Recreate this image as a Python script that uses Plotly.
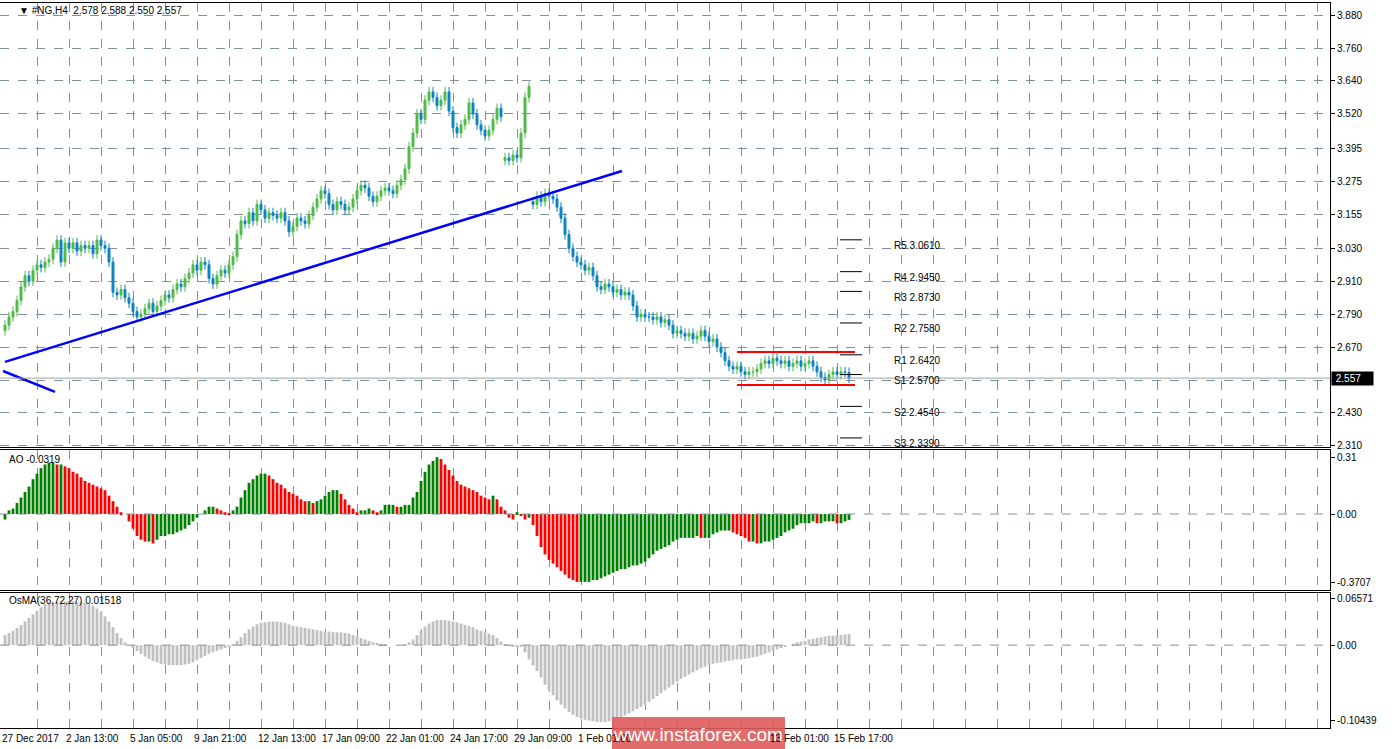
import plotly.graph_objects as go
from plotly.subplots import make_subplots

closes = [
2.75,2.78,2.80,2.84,2.89,2.93,2.91,2.95,2.97,2.96,
2.98,2.99,3.03,3.06,2.98,3.05,3.03,3.05,3.02,3.04,
3.03,3.04,3.01,3.06,3.04,3.03,2.98,2.87,2.86,2.88,
2.85,2.83,2.80,2.78,2.79,2.81,2.83,2.80,2.82,2.84,
2.86,2.85,2.88,2.90,2.89,2.92,2.94,2.97,2.95,2.98,
2.97,2.92,2.90,2.93,2.95,2.94,2.97,3.00,3.08,3.13,
3.12,3.16,3.13,3.19,3.17,3.14,3.16,3.15,3.14,3.16,
3.13,3.09,3.11,3.14,3.13,3.12,3.15,3.18,3.21,3.24,
3.23,3.19,3.17,3.20,3.19,3.17,3.18,3.21,3.24,3.26,
3.25,3.22,3.20,3.22,3.24,3.25,3.24,3.23,3.26,3.28,
3.32,3.40,3.45,3.52,3.50,3.57,3.60,3.58,3.55,3.57,
3.60,3.53,3.47,3.45,3.48,3.50,3.56,3.52,3.48,3.46,
3.44,3.46,3.50,3.54,3.51,3.36,3.35,3.37,3.36,3.45,
3.58,3.62,3.19,3.22,3.20,3.23,3.22,3.21,3.18,3.14,
3.08,3.03,3.00,2.98,2.97,2.95,2.96,2.93,2.89,2.88,
2.90,2.89,2.87,2.88,2.86,2.87,2.86,2.82,2.78,2.79,
2.78,2.78,2.77,2.78,2.76,2.77,2.75,2.72,2.73,2.72,
2.71,2.72,2.70,2.71,2.73,2.71,2.69,2.70,2.67,2.65,
2.62,2.60,2.59,2.60,2.58,2.57,2.58,2.58,2.59,2.61,
2.62,2.61,2.63,2.62,2.61,2.62,2.60,2.61,2.62,2.60,
2.61,2.62,2.60,2.58,2.56,2.55,2.57,2.58,2.57,2.58,
2.578,2.557]
gap_index = [125, 132]
gap_open = [3.35, 3.20]

ao = [
-0.03,0.02,0.03,0.06,0.09,0.12,0.15,0.19,0.22,0.25,
0.27,0.28,0.28,0.27,0.27,0.26,0.25,0.23,0.22,0.20,
0.18,0.17,0.16,0.15,0.14,0.13,0.10,0.07,0.04,0.01,
0.00,-0.04,-0.08,-0.12,-0.14,-0.15,-0.15,-0.16,-0.14,-0.12,
-0.12,-0.11,-0.11,-0.10,-0.09,-0.08,-0.06,-0.04,-0.02,0.00,
0.02,0.04,0.04,0.03,0.02,0.01,0.005,0.02,0.04,0.09,
0.13,0.17,0.19,0.21,0.22,0.22,0.21,0.19,0.17,0.16,
0.14,0.12,0.11,0.10,0.08,0.07,0.07,0.06,0.07,0.08,
0.10,0.12,0.13,0.13,0.11,0.08,0.05,0.03,0.01,0.02,
0.02,0.03,0.02,0.01,0.02,0.05,0.05,0.05,0.04,0.04,
0.05,0.05,0.09,0.12,0.18,0.23,0.27,0.29,0.31,0.30,
0.27,0.24,0.21,0.18,0.16,0.15,0.14,0.13,0.12,0.10,
0.09,0.08,0.10,0.08,0.04,0.02,-0.02,-0.03,0.01,-0.01,
-0.03,-0.02,-0.06,-0.12,-0.18,-0.22,-0.25,-0.27,-0.29,-0.31,
-0.33,-0.35,-0.36,-0.37,-0.37,-0.37,-0.37,-0.36,-0.36,-0.35,
-0.34,-0.33,-0.32,-0.31,-0.30,-0.30,-0.29,-0.28,-0.28,-0.27,
-0.26,-0.24,-0.22,-0.20,-0.19,-0.18,-0.17,-0.15,-0.14,-0.13,
-0.13,-0.13,-0.13,-0.12,-0.13,-0.13,-0.13,-0.11,-0.10,-0.09,
-0.09,-0.09,-0.10,-0.11,-0.12,-0.13,-0.15,-0.15,-0.16,-0.16,
-0.15,-0.15,-0.14,-0.13,-0.12,-0.10,-0.09,-0.08,-0.06,-0.05,
-0.05,-0.05,-0.04,-0.05,-0.05,-0.04,-0.04,-0.04,-0.05,-0.05,
-0.04,-0.0319]

osma = [
0.014,0.017,0.020,0.024,0.028,0.033,0.038,0.043,0.048,0.053,
0.057,0.059,0.060,0.061,0.061,0.061,0.061,0.061,0.060,0.060,
0.059,0.057,0.055,0.051,0.046,0.040,0.033,0.025,0.017,0.010,
0.004,0.000,-0.004,-0.008,-0.012,-0.016,-0.019,-0.022,-0.024,-0.026,
-0.027,-0.028,-0.028,-0.028,-0.028,-0.027,-0.026,-0.024,-0.021,-0.018,
-0.015,-0.012,-0.010,-0.008,-0.006,-0.004,-0.002,0.002,0.006,0.011,
0.017,0.022,0.026,0.029,0.031,0.032,0.033,0.033,0.033,0.032,
0.031,0.029,0.027,0.026,0.025,0.024,0.023,0.022,0.021,0.020,
0.019,0.019,0.018,0.018,0.018,0.017,0.016,0.014,0.012,0.010,
0.008,0.006,0.004,0.003,0.002,0.001,0.000,0.000,0.000,0.000,
0.001,0.004,0.008,0.014,0.020,0.026,0.030,0.033,0.035,0.035,
0.035,0.034,0.033,0.032,0.030,0.028,0.027,0.025,0.022,0.020,
0.018,0.016,0.014,0.010,0.005,0.001,-0.001,-0.002,-0.002,-0.002,
-0.010,-0.020,-0.028,-0.036,-0.045,-0.055,-0.063,-0.070,-0.077,-0.083,
-0.088,-0.093,-0.097,-0.100,-0.102,-0.104,-0.105,-0.106,-0.107,-0.107,
-0.107,-0.106,-0.104,-0.102,-0.100,-0.098,-0.095,-0.092,-0.089,-0.086,
-0.083,-0.079,-0.075,-0.071,-0.067,-0.063,-0.059,-0.055,-0.051,-0.047,
-0.044,-0.041,-0.038,-0.035,-0.032,-0.030,-0.028,-0.026,-0.025,-0.024,
-0.023,-0.022,-0.021,-0.020,-0.020,-0.019,-0.018,-0.017,-0.016,-0.014,
-0.012,-0.010,-0.008,-0.006,-0.004,-0.002,0.000,0.002,0.004,0.005,
0.006,0.008,0.009,0.010,0.011,0.012,0.013,0.013,0.014,0.014,
0.015,0.01518]

date_labels = ["27 Dec 2017","2 Jan 13:00","5 Jan 05:00","9 Jan 21:00","12 Jan 13:00",
               "17 Jan 09:00","22 Jan 01:00","24 Jan 17:00","29 Jan 09:00","1 Feb 01:00",
               "", "", "13 Feb 01:00","15 Feb 17:00"]
label_step = 16
price_ticks = [3.880,3.760,3.640,3.520,3.395,3.275,3.155,3.030,2.910,2.790,2.670,2.550,2.430,2.310]
price_tick_text = ["3.880","3.760","3.640","3.520","3.395","3.275","3.155","3.030","2.910","2.790","2.670","","2.430","2.310"]
ao_ticks = [0.31,0.0,-0.3707]
ao_tick_text = ["0.31","0.00","-0.3707"]
osma_ticks = [0.06571,0.0,-0.10439]
osma_tick_text = ["0.06571","0.00","-0.10439"]

pivot_names = ["R5","R4","R3","R2","R1","S1","S2","S3"]
pivot_vals = [3.0610,2.9450,2.8730,2.7580,2.6420,2.5700,2.4540,2.3390]
pivot_x = [208.75, 214.25]
trend1_x = [0, 154.25]; trend1_y = [2.616, 3.312]
trend2_x = [-0.5, 12.5]; trend2_y = [2.583, 2.507]
box_x = [183, 212.5]; box_top = 2.652; box_bot = 2.532
last_price = 2.557
wick = 0.018

n = len(closes)
idx = list(range(n))
opens = [closes[0] - 0.02] + closes[:-1]
for gi, go_ in zip(gap_index, gap_open):
    opens[gi] = go_
highs = [max(o, c) + wick for o, c in zip(opens, closes)]
lows = [min(o, c) - wick for o, c in zip(opens, closes)]

FONT = "Liberation Sans"
fig = make_subplots(rows=3, cols=1, shared_xaxes=True)
fig.add_trace(go.Candlestick(x=idx, open=opens, high=highs, low=lows, close=closes,
    increasing=dict(line=dict(color="#4DBB45", width=1), fillcolor="#4DBB45"),
    decreasing=dict(line=dict(color="#0A84C4", width=1), fillcolor="#0A84C4"),
    whiskerwidth=0, showlegend=False), row=1, col=1)
ao_colors = ["#008000"] + ["#008000" if ao[i] >= ao[i-1] else "#FF0000" for i in range(1, n)]
fig.add_trace(go.Bar(x=idx, y=ao, marker=dict(color=ao_colors, line=dict(width=0)), showlegend=False), row=2, col=1)
fig.add_trace(go.Bar(x=idx, y=osma, marker=dict(color="#C0C0C0", line=dict(width=0)), showlegend=False), row=3, col=1)

fig.add_trace(go.Scatter(x=trend1_x, y=trend1_y, mode="lines", line=dict(color="#0000FF", width=2.5), showlegend=False, hoverinfo="skip"), row=1, col=1)
fig.add_trace(go.Scatter(x=trend2_x, y=trend2_y, mode="lines", line=dict(color="#0000FF", width=2.5), showlegend=False, hoverinfo="skip"), row=1, col=1)
for yv in (box_top, box_bot):
    fig.add_trace(go.Scatter(x=box_x, y=[yv, yv], mode="lines", line=dict(color="#FF0000", width=2), showlegend=False, hoverinfo="skip"), row=1, col=1)
for nm, v in zip(pivot_names, pivot_vals):
    fig.add_trace(go.Scatter(x=pivot_x, y=[v, v], mode="lines", line=dict(color="black", width=1), showlegend=False, hoverinfo="skip"), row=1, col=1)
    fig.add_annotation(x=pivot_x[1] + 7.5, y=v, yshift=-6, text=f"{nm} {v:.4f}", showarrow=False,
                       xanchor="left", font=dict(size=10, color="black", family=FONT), xref="x", yref="y")
fig.add_hline(y=last_price, line=dict(color="#A0A0A0", width=1), row=1, col=1)

XR = [-1.25, 331.25]
XD = [0, 1330/1398]
grid_ticks = list(range(8, 332, 8))
for k in (1, 2, 3):
    fig.update_xaxes(row=k, col=1, range=XR, domain=XD, tickvals=grid_ticks, showticklabels=False,
                     showgrid=True, gridcolor="#8090A0", griddash="dash", gridwidth=1, automargin=False,
                     showline=True, linecolor="black", mirror=True, zeroline=False, rangeslider=dict(visible=False))
common_y = dict(side="right", ticks="outside", ticklen=4, tickcolor="black", automargin=False,
                showline=True, linecolor="black", mirror=True, zeroline=False)
fig.update_yaxes(row=1, col=1, domain=[1-447/749, 1-3/749], range=[2.306, 3.924],
                 tickvals=price_ticks, ticktext=price_tick_text,
                 showgrid=True, gridcolor="#8090A0", griddash="dash", **common_y)
fig.update_yaxes(row=2, col=1, domain=[1-590/749, 1-450/749], range=[-0.414, 0.349],
                 tickvals=ao_ticks, ticktext=ao_tick_text, showgrid=False, **common_y)
fig.update_yaxes(row=3, col=1, domain=[1-728/749, 1-593/749], range=[-0.1155, 0.0727],
                 tickvals=osma_ticks, ticktext=osma_tick_text, showgrid=False, **common_y)
fig.add_hline(y=0, line=dict(color="#8090A0", width=1, dash="dash"), row=2, col=1)
fig.add_hline(y=0, line=dict(color="#8090A0", width=1, dash="dash"), row=3, col=1)

for j, lab in enumerate(date_labels):
    if lab:
        fig.add_annotation(x=j*label_step, y=1-738/749, xref="x3", yref="paper", text=lab, showarrow=False,
                           xanchor="left", yanchor="middle", xshift=-5, font=dict(size=10, color="black", family=FONT))

fig.add_annotation(x=0.012, y=1-10/749, xref="paper", yref="paper", text="▼ #NG,H4  2.578 2.588 2.550 2.557",
                   showarrow=False, xanchor="left", yanchor="middle", font=dict(size=10, color="black", family=FONT))
fig.add_annotation(x=0.005, y=1-459/749, xref="paper", yref="paper", text="AO -0.0319",
                   showarrow=False, xanchor="left", yanchor="middle", font=dict(size=10, color="black", family=FONT))
fig.add_annotation(x=0.005, y=1-600/749, xref="paper", yref="paper", text="OsMA(36,72,27) 0.01518",
                   showarrow=False, xanchor="left", yanchor="middle", font=dict(size=10, color="black", family=FONT))
fig.add_annotation(x=XD[1], y=last_price, xref="paper", yref="y", text=" 2.557    ", showarrow=False,
                   xanchor="left", xshift=1, bgcolor="black", font=dict(size=10, color="white", family=FONT))

fig.add_shape(type="rect", xref="paper", yref="paper", x0=612/1398, x1=785/1398, y0=0, y1=1-717/749,
              fillcolor="rgba(222,90,90,0.9)", line=dict(width=0))
fig.add_annotation(x=698/1398, y=1-734/749, xref="paper", yref="paper", text="www.instaforex.com",
                   showarrow=False, yanchor="middle", font=dict(size=19, color="white", family="Liberation Sans"))

fig.update_layout(width=1398, height=749, margin=dict(l=0, r=0, t=0, b=0, autoexpand=False), plot_bgcolor="white",
                  paper_bgcolor="white", bargap=0.3, font=dict(family=FONT, size=10, color="black"),
                  xaxis_rangeslider_visible=False)
fig.write_html("out.html", config={"displayModeBar": False},
               post_script="document.body.style.margin='0';document.body.style.overflow='hidden';")
